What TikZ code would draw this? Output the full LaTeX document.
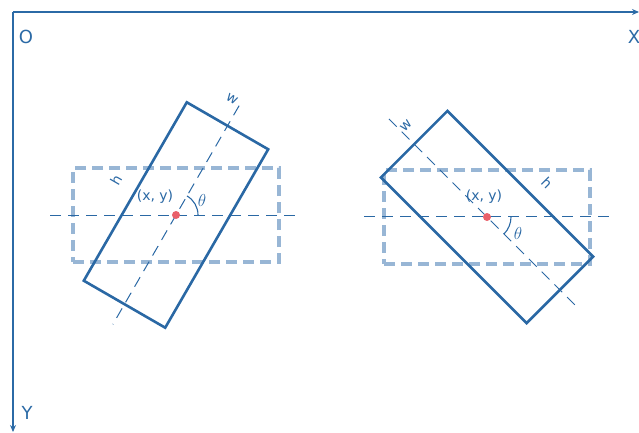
\documentclass[tikz,border=0pt]{standalone}
\usepackage{fontspec}
\setmainfont{DejaVu Sans}
\usetikzlibrary{positioning, arrows.meta, calc}
\definecolor{cAxis} {HTML}{2B6AA6}
\definecolor{cBox}  {HTML}{2A68A4}
\definecolor{cGhost}{HTML}{98B6D5}
\definecolor{cDot}  {HTML}{E9606A}

\begin{document}
\begin{tikzpicture}[x=1pt, y=-1pt,
    axis/.style={draw=cAxis, line width=1.4pt, -{Stealth[length=7pt, width=6pt]}},
    axlabel/.style={text=cAxis, font=\fontsize{18}{18}\selectfont, inner sep=0},
    rbox/.style={draw=cBox, line width=2.6pt, minimum width=206pt, minimum height=94pt, inner sep=0},
    ghost/.style={draw=cGhost, line width=3.2pt, dash pattern=on 11pt off 6pt, minimum width=206pt, minimum height=94pt, inner sep=0},
    guide/.style={draw=cBox, line width=1pt, dash pattern=on 11pt off 7pt},
    centre/.style={circle, fill=cDot, minimum size=8pt, inner sep=0},
    lbl/.style={text=cBox, font=\fontsize{14}{14}\selectfont, inner sep=0},
    ang/.style={text=cBox, font=\fontsize{19}{19}\selectfont, inner sep=0},
  ]
  \useasboundingbox (0,0) rectangle (639,433);
  % Image axes
  \coordinate (orig) at (13,12);
  \coordinate (xend) at (639,12);
  \coordinate (yend) at (13,432);
  \draw[axis] (orig) -- (xend);
  \draw[axis] (orig) -- (yend);
  \node[axlabel] (lblO) at (26,37) {O};
  \node[axlabel] (lblX) at (634,37) {X};
  \node[axlabel] (lblY) at (27,413) {Y};

  % Left box, rotated by 60 degrees
  \coordinate (cL) at (176,215);
  \node[ghost] (ghostL) at (cL) {};
  \coordinate (hL1) at (50,215);
  \coordinate (hL2) at (302,215);
  \draw[guide] (hL1) -- (hL2);
  \node[rbox, rotate=60] (rectL) at (cL) {};
  \coordinate (wL1) at ($(cL)!1.21!(rectL.west)$);
  \coordinate (wL2) at ($(cL)!1.21!(rectL.east)$);
  \draw[guide] (wL2) -- (wL1);
  \draw[cBox, line width=1.1pt] ([xshift=22pt]cL) arc[start angle=0, end angle=60, radius=22pt];
  \node[centre] (dotL) at (cL) {};
  \node[lbl] (xyL) at (155,197) {(x, y)};
  \node[ang] (thL) at (202,200) {$\theta$};
  \node[lbl, rotate=-30] (wlL) at (232,99) {w};
  \node[lbl, rotate=60] (hlL) at (116,180) {h};

  % Right box, rotated by -45 degrees
  \coordinate (cR) at (487,217);
  \node[ghost] (ghostR) at (cR) {};
  \coordinate (hR1) at (364,216);
  \coordinate (hR2) at (612,216);
  \draw[guide] (hR1) -- (hR2);
  \node[rbox, rotate=-45] (rectR) at (cR) {};
  \coordinate (wR1) at ($(cR)!1.33!(rectR.west)$);
  \coordinate (wR2) at ($(cR)!1.19!(rectR.east)$);
  \draw[guide] (wR1) -- (wR2);
  \draw[cBox, line width=1.1pt] ([xshift=24pt]cR) arc[start angle=0, end angle=-45, radius=24pt];
  \node[centre] (dotR) at (cR) {};
  \node[lbl] (xyR) at (484,197) {(x, y)};
  \node[ang] (thR) at (518,233) {$\theta$};
  \node[lbl, rotate=45] (wlR) at (406,126) {w};
  \node[lbl, rotate=-45] (hlR) at (547,183) {h};
\end{tikzpicture}
\end{document}
